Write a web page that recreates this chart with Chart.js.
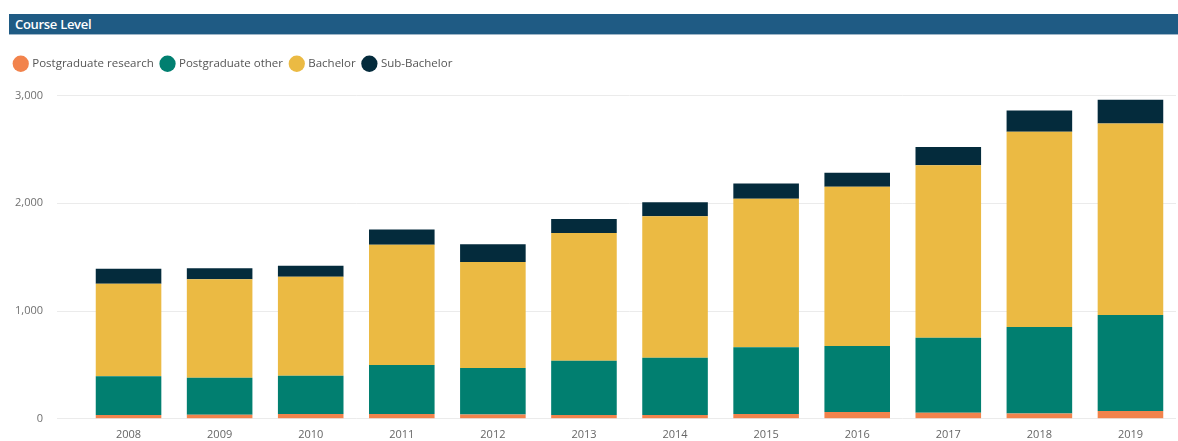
<!DOCTYPE html>
<html>
<head>
<meta charset="utf-8">
<script src="https://cdn.jsdelivr.net/npm/chart.js@4"></script>
<style>
  html, body { margin: 0; padding: 0; background: #ffffff; }
  body { width: 1178px; height: 441px; position: relative; overflow: hidden; }
  #hdr { position: absolute; left: 9px; top: 14px; width: 1169px; height: 21px;
         background: #1f5b84; border-bottom: 1px solid #9fb6c8;
         color: #ffffff; font-family: "Open Sans", sans-serif; font-size: 13px; font-weight: 600;
         line-height: 21px; padding-left: 6px; box-sizing: border-box; letter-spacing: -0.3px; }
  #wrap { position: absolute; left: 0; top: 0; width: 1178px; height: 441px; }
</style>
</head>
<body>
<div id="wrap"><canvas id="c" width="1178" height="441"></canvas></div>
<div id="hdr">Course Level</div>
<script>
const years = ["2008","2009","2010","2011","2012","2013","2014","2015","2016","2017","2018","2019"];
const postgradResearch = [35, 37, 45, 45, 40, 35, 35, 44, 62, 56, 50, 72];
const postgradOther    = [360, 345, 355, 455, 432, 503, 531, 621, 613, 696, 802, 892];
const bachelor         = [858, 913, 918, 1116, 982, 1186, 1314, 1376, 1478, 1600, 1811, 1776];
const subBachelor      = [139, 103, 102, 140, 165, 131, 130, 143, 130, 171, 198, 221];
const yTicks = [0, 1000, 2000, 3000];

const FONT = '"Open Sans", sans-serif';

const legendSpacer = {
  id: 'legendSpacer',
  beforeInit(chart) {
    const orig = chart.legend.fit;
    chart.legend.fit = function () {
      orig.call(this);
      this.height += 16;
    };
  }
};

new Chart(document.getElementById('c'), {
  type: 'bar',
  data: {
    labels: years,
    datasets: [
      { label: 'Postgraduate research', data: postgradResearch, backgroundColor: '#f2834c' },
      { label: 'Postgraduate other', data: postgradOther, backgroundColor: '#017f70' },
      { label: 'Bachelor', data: bachelor, backgroundColor: '#ebba43' },
      { label: 'Sub-Bachelor', data: subBachelor, backgroundColor: '#042b3c' }
    ]
  },
  plugins: [legendSpacer],
  options: {
    responsive: false,
    animation: false,
    devicePixelRatio: 1,
    layout: { padding: { top: 50, left: 7, right: 2, bottom: -9 } },
    plugins: {
      legend: {
        position: 'top',
        align: 'start',
        labels: {
          usePointStyle: true,
          pointStyle: 'circle',
          boxWidth: 12,
          boxHeight: 12,
          padding: 8,
          color: '#555555',
          font: { family: FONT, size: 11.5 }
        }
      },
      tooltip: { enabled: false }
    },
    scales: {
      x: {
        stacked: true,
        offset: true,
        grid: { display: false, drawTicks: false, tickLength: 0 },
        border: { display: false },
        categoryPercentage: 1.0,
        barPercentage: 0.79,
        ticks: { color: '#666666', font: { family: FONT, size: 11 }, padding: 9, maxRotation: 0 }
      },
      y: {
        stacked: true,
        min: 0,
        max: 3000,
        afterBuildTicks(scale) { scale.ticks = yTicks.map(v => ({ value: v })); },
        afterFit(scale) { scale.width = 76; },
        border: { display: false },
        grid: { color: '#ebebeb', lineWidth: 1, tickLength: 26, tickColor: '#ebebeb' },
        ticks: {
          color: '#707070',
          font: { family: FONT, size: 11 },
          padding: 14,
          callback: v => v.toLocaleString('en-US')
        }
      }
    }
  }
});
</script>
</body>
</html>
